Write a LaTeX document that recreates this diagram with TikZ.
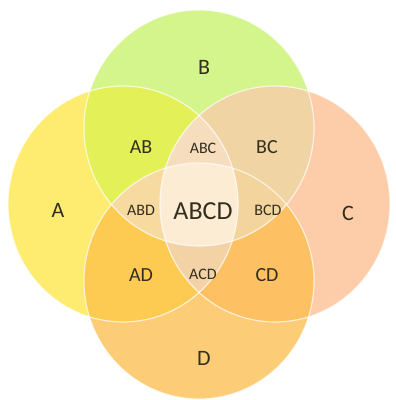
\documentclass[tikz,border=0pt]{standalone}
\usepackage{fontspec}
\setmainfont{Carlito}
\definecolor{setA}{RGB}{253,236,112}
\definecolor{setB}{RGB}{212,244,140}
\definecolor{setC}{RGB}{253,204,168}
\definecolor{setD}{RGB}{253,204,118}
\definecolor{setAB}{RGB}{228,240,88}
\definecolor{setBC}{RGB}{240,212,164}
\definecolor{setCD}{RGB}{253,193,100}
\definecolor{setAD}{RGB}{253,202,82}
\definecolor{setABC}{RGB}{246,221,190}
\definecolor{setABD}{RGB}{246,218,160}
\definecolor{setBCD}{RGB}{243,212,156}
\definecolor{setACD}{RGB}{243,210,166}
\definecolor{setABCD}{RGB}{252,236,212}
\definecolor{labelink}{RGB}{52,46,30}
\tikzset{
  venn size/.style={x radius=115,y radius=118},
  venn edge/.style={draw=white,draw opacity=0.7,line width=1.2pt},
  set label/.style={text=labelink,inner sep=0pt,font=\fontsize{22}{24}\selectfont},
  pair label/.style={set label,font=\fontsize{20}{22}\selectfont},
  triple label/.style={set label,font=\fontsize{16}{18}\selectfont},
  core label/.style={set label,font=\fontsize{26}{28}\selectfont},
}

\begin{document}
\begin{tikzpicture}[x=1pt,y=1pt]
  \useasboundingbox (0,0) rectangle (396,400);
  \coordinate (cA) at (123,196);
  \coordinate (cB) at (199,272);
  \coordinate (cC) at (275,196);
  \coordinate (cD) at (199,119);
  % single sets
  \foreach \s in {A,B,C,D}
    \fill[set\s] (c\s) ellipse [venn size];
  % pairs
  \foreach \p/\q in {A/B,B/C,C/D,A/D} {
    \begin{scope}
      \clip (c\p) ellipse [venn size];
      \fill[set\p\q] (c\q) ellipse [venn size];
    \end{scope}
  }
  % triples
  \foreach \p/\q/\r in {A/B/C,A/B/D,B/C/D,A/C/D} {
    \begin{scope}
      \clip (c\p) ellipse [venn size];
      \clip (c\q) ellipse [venn size];
      \fill[set\p\q\r] (c\r) ellipse [venn size];
    \end{scope}
  }
  \begin{scope}
    \clip (cA) ellipse [venn size];
    \clip (cB) ellipse [venn size];
    \clip (cC) ellipse [venn size];
    \fill[setABCD] (cD) ellipse [venn size];
  \end{scope}
  \foreach \s in {A,B,C,D}
    \draw[venn edge] (c\s) ellipse [venn size];
  % labels
  \node[set label] (lA) at (58,190) {A};
  \node[set label] (lB) at (204,333) {B};
  \node[set label] (lC) at (348,187) {C};
  \node[set label] (lD) at (204,42) {D};
  \node[pair label] (lAB) at (141,253) {AB};
  \node[pair label] (lBC) at (267,253) {BC};
  \node[pair label] (lAD) at (141,125) {AD};
  \node[pair label] (lCD) at (267,125) {CD};
  \node[triple label] (lABC) at (203,252) {ABC};
  \node[triple label] (lABD) at (141,190) {ABD};
  \node[triple label] (lBCD) at (268,190) {BCD};
  \node[triple label] (lACD) at (203,126) {ACD};
  \node[core label] (lABCD) at (203,189) {ABCD};
\end{tikzpicture}
\end{document}
